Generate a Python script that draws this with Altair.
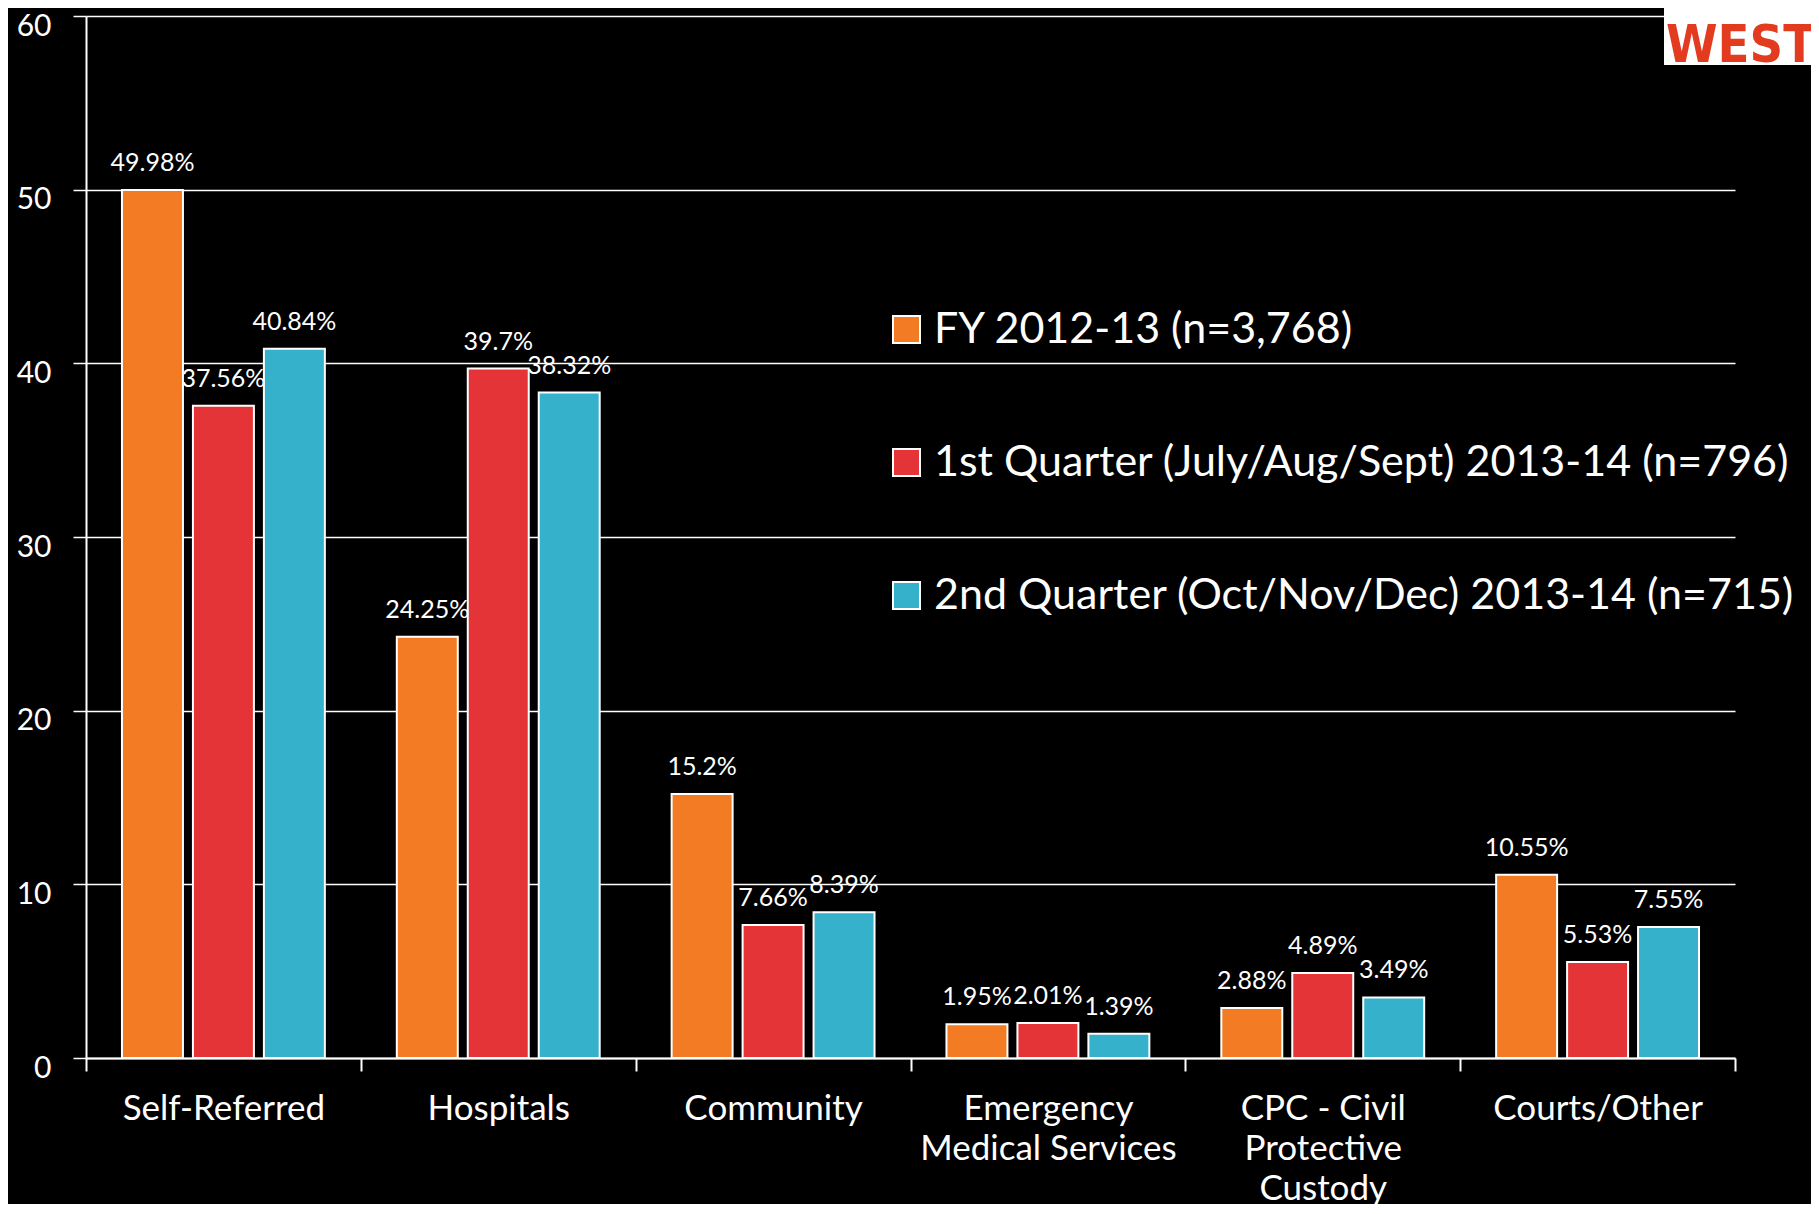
import altair as alt
import pandas as pd

categories = ["Self-Referred", "Hospitals", "Community",
              "Emergency|Medical Services", "CPC - Civil|Protective|Custody", "Courts/Other"]
series = ["FY 2012-13 (n=3,768)",
          "1st Quarter (July/Aug/Sept) 2013-14 (n=796)",
          "2nd Quarter (Oct/Nov/Dec) 2013-14 (n=715)"]
fy_2012_13 = [49.98, 24.25, 15.2, 1.95, 2.88, 10.55]
q1_2013_14 = [37.56, 39.7, 7.66, 2.01, 4.89, 5.53]
q2_2013_14 = [40.84, 38.32, 8.39, 1.39, 3.49, 7.55]
colors = ["#F27B24", "#E43438", "#35B1CB"]
y_ticks = [0, 10, 20, 30, 40, 50, 60]
logo_text = ["WESTCA"]

rows = []
for s, vals in zip(series, [fy_2012_13, q1_2013_14, q2_2013_14]):
    for c, v in zip(categories, vals):
        rows.append({"category": c, "series": s, "value": v, "label": f"{v:g}%"})
df = pd.DataFrame(rows)

FONT = "Lato"

x_enc = alt.X("category:N", sort=categories,
              scale=alt.Scale(paddingInner=0, paddingOuter=0),
              axis=alt.Axis(title=None, labelAngle=0, tickBand="extent",
                            labelExpr="split(datum.label, '|')",
                            domainColor="white", domainWidth=2,
                            tickColor="white", tickWidth=2, tickSize=13,
                            labelColor="white", labelFont=FONT, labelFontSize=35,
                            labelPadding=20, labelLineHeight=40, labelLimit=0,
                            grid=False))
xoff_enc = alt.XOffset("series:N", sort=series,
                       scale=alt.Scale(paddingInner=0.1408, paddingOuter=0.507))
y_enc = alt.Y("value:Q", scale=alt.Scale(domain=[0, 60], nice=False),
              axis=alt.Axis(title=None, values=y_ticks, grid=True,
                            gridColor="white", gridWidth=1.5,
                            domainColor="white", domainWidth=2,
                            tickColor="white", tickWidth=1.5, tickSize=13,
                            labelColor="white", labelFont=FONT, labelFontSize=30,
                            labelPadding=22, labelOffset=10))

bars = alt.Chart(df).mark_bar(stroke="white", strokeWidth=2).encode(
    x=x_enc, xOffset=xoff_enc, y=y_enc,
    color=alt.Color("series:N", sort=series,
                    scale=alt.Scale(domain=series, range=colors),
                    legend=alt.Legend(title=None, orient="none", legendX=799, legendY=292,
                                      symbolType="square", symbolSize=729,
                                      symbolStrokeColor="white", symbolStrokeWidth=2,
                                      labelColor="white", labelFont=FONT, labelFontSize=43,
                                      labelOffset=6, labelLimit=0, rowPadding=89))
)

labels = alt.Chart(df).mark_text(dy=-27, baseline="middle", fontSize=25,
                                 font=FONT, color="white").encode(
    x=alt.X("category:N", sort=categories), xOffset=alt.XOffset("series:N", sort=series),
    y="value:Q", text="label:N"
)

logo_df = pd.DataFrame({"t": logo_text})
logo_box = alt.Chart(logo_df).mark_rect(color="white").encode(
    x=alt.value(1578), x2=alt.value(1760), y=alt.value(-16), y2=alt.value(49)
)
logo = alt.Chart(logo_df).mark_text(align="left", baseline="alphabetic",
                                    font="DejaVu Sans Condensed, Liberation Sans Narrow, Liberation Sans, sans-serif",
                                    fontWeight="bold",
                                    fontSize=52, color="#E23B1F").encode(
    x=alt.value(1580), y=alt.value(46), text="t:N"
)

chart = alt.layer(bars, labels, logo_box, logo).properties(
    width=1649, height=1042,
    background="black",
    autosize=alt.AutoSizeParams(type="none"),
    padding={"left": 78, "top": 8, "right": 76, "bottom": 146},
).configure_view(stroke=None)

chart.save("out.html", embed_options={"renderer": "svg", "actions": False})
